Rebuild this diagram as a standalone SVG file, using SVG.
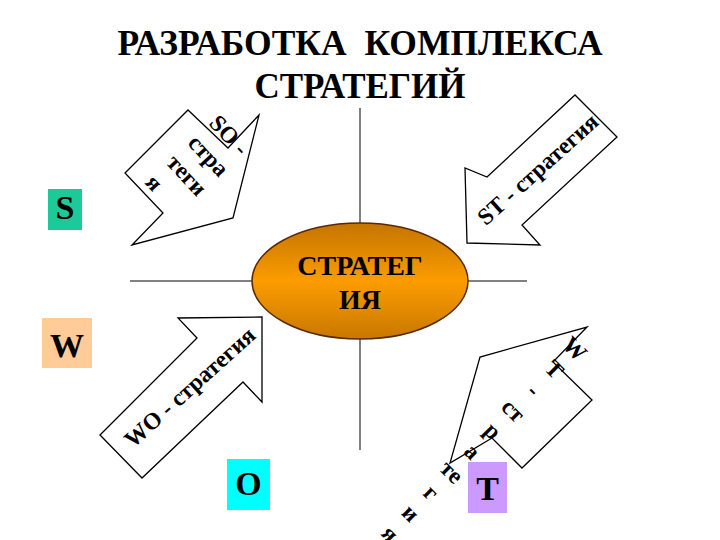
<svg xmlns="http://www.w3.org/2000/svg" width="720" height="540" viewBox="0 0 720 540">
<style>
.t{font-family:"Liberation Serif","Times New Roman",serif;font-weight:bold;fill:#000}
.arrow{fill:#fff;stroke:#000;stroke-width:1.3;stroke-linejoin:miter}
.axis{stroke:#808080;stroke-width:2;fill:none}
.lbl{font-size:23.5px}
.box{font-size:34px;text-anchor:middle}
</style>
<defs>
<linearGradient id="og" x1="0" y1="0" x2="0" y2="1">
<stop offset="0" stop-color="#c47400"/>
<stop offset="0.5" stop-color="#fb9c00"/>
<stop offset="1" stop-color="#c87800"/>
</linearGradient>
</defs>
<rect width="720" height="540" fill="#fff"/>
<g id="title">
<text class="t" x="360" y="55" font-size="35.5" text-anchor="middle" xml:space="preserve">РАЗРАБОТКА  КОМПЛЕКСА</text>
<text class="t" x="360" y="98" font-size="35" text-anchor="middle">СТРАТЕГИЙ</text>
</g>
<g id="connectors">
<line class="axis" x1="130" y1="281" x2="527" y2="281"/>
<line class="axis" x1="360" y1="108" x2="360" y2="450"/>
</g>
<g id="center">
<ellipse cx="360" cy="281" rx="108" ry="58" fill="url(#og)" stroke="#5a2800" stroke-width="1.5"/>
<text class="t" x="360" y="275" font-size="28" text-anchor="middle">СТРАТЕГ</text>
<text class="t" x="360" y="309" font-size="28" text-anchor="middle">ИЯ</text>
</g>
<g id="so-arrow">
<polygon class="arrow" points="188,110 228,148 259,115 233,218 132,245 163,213 125,173"/>
<g transform="translate(208,124) rotate(47)">
<text class="t lbl" x="0" y="0" xml:space="preserve">SO -</text>
<text class="t lbl" x="0" y="29">стра</text>
<text class="t lbl" x="0" y="58">теги</text>
<text class="t lbl" x="0" y="87">я</text>
</g>
</g>
<g id="st-arrow">
<polygon class="arrow" points="467,243 465,168 487,177 575,95 617,137 522,225 540,245"/>
<text class="t lbl" text-anchor="middle" transform="translate(543,175) rotate(-42)">ST - стратегия</text>
</g>
<g id="wo-arrow">
<polygon class="arrow" points="100,435 197,338 178,318 262,317 262,402 243,382 142,478"/>
<text class="t lbl" text-anchor="middle" transform="translate(195,393) rotate(-42)">WO - стратегия</text>
</g>
<g id="wt-arrow">
<polygon class="arrow" points="587,327 553,362 592,400 522,468 492,438 450,463 480,357"/>
<g transform="translate(569.4,354.4) rotate(45)">
<text class="t lbl" text-anchor="middle" x="0" y="0">W</text>
<text class="t lbl" text-anchor="middle" x="0" y="29">T</text>
<text class="t lbl" text-anchor="middle" x="0" y="58">-</text>
<text class="t lbl" text-anchor="middle" x="0" y="87">ст</text>
<text class="t lbl" text-anchor="middle" x="0" y="116">р</text>
<text class="t lbl" text-anchor="middle" x="0" y="145">а</text>
<text class="t lbl" text-anchor="middle" x="0" y="174">те</text>
<text class="t lbl" text-anchor="middle" x="0" y="203">г</text>
<text class="t lbl" text-anchor="middle" x="0" y="232">и</text>
<text class="t lbl" text-anchor="middle" x="0" y="261">я</text>
</g>
</g>
<g id="S">
<rect x="48" y="189" width="34" height="41" fill="#1ec999"/>
<text class="t box" x="65" y="219">S</text>
</g>
<g id="W">
<rect x="42" y="318" width="50" height="50" fill="#ffcc99"/>
<text class="t box" x="67" y="357">W</text>
</g>
<g id="O">
<rect x="227" y="459" width="43" height="51" fill="#00ffff"/>
<text class="t box" x="248.5" y="495">O</text>
</g>
<g id="T">
<rect x="468" y="462" width="39" height="51" fill="#cc99ff"/>
<text class="t box" x="487.5" y="500" font-size="38">T</text>
</g>
</svg>
